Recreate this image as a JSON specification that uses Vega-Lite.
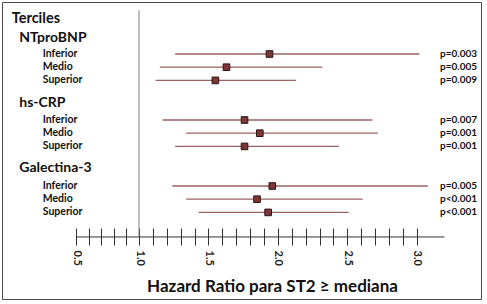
{
  "$schema": "https://vega.github.io/schema/vega-lite/v6.json",
  "width": 479,
  "height": 297,
  "autosize": {"type": "none"},
  "padding": {"left": 2, "top": 2, "right": 6, "bottom": 5},
  "background": "white",
  "config": {
    "view": {"stroke": "#4a4a4a", "strokeWidth": 1},
    "font": "Lato",
    "axisX": {
      "offset": -71,
      "domain": false,
      "grid": false,
      "tickCount": 100,
      "tickSize": 17,
      "tickColor": "#333333",
      "tickWidth": 1,
      "labelAngle": 90,
      "labelPadding": 5,
      "labelFont": "Lato",
      "labelFontSize": 11,
      "labelFontWeight": "bold",
      "labelColor": "#222222",
      "labelFlush": false,
      "labelOverlap": false,
      "titleFont": "Lato",
      "titleFontSize": 17,
      "titleFontWeight": "bold",
      "titleColor": "#111111",
      "titleX": 270,
      "titleY": 50
    }
  },
  "datasets": {
    "items": [
      {"group": "NTproBNP", "label": "Inferior", "row": 3, "hr": 1.94, "lo": 1.26, "hi": 3.02, "p": "p=0.003"},
      {"group": "NTproBNP", "label": "Medio", "row": 4, "hr": 1.63, "lo": 1.15, "hi": 2.32, "p": "p=0.005"},
      {"group": "NTproBNP", "label": "Superior", "row": 5, "hr": 1.55, "lo": 1.12, "hi": 2.13, "p": "p=0.009"},
      {"group": "hs-CRP", "label": "Inferior", "row": 8, "hr": 1.76, "lo": 1.17, "hi": 2.68, "p": "p=0.007"},
      {"group": "hs-CRP", "label": "Medio", "row": 9, "hr": 1.87, "lo": 1.34, "hi": 2.72, "p": "p=0.001"},
      {"group": "hs-CRP", "label": "Superior", "row": 10, "hr": 1.76, "lo": 1.26, "hi": 2.44, "p": "p=0.001"},
      {"group": "Galectina-3", "label": "Inferior", "row": 13, "hr": 1.96, "lo": 1.24, "hi": 3.08, "p": "p=0.005"},
      {"group": "Galectina-3", "label": "Medio", "row": 14, "hr": 1.85, "lo": 1.34, "hi": 2.61, "p": "p<0.001"},
      {"group": "Galectina-3", "label": "Superior", "row": 15, "hr": 1.93, "lo": 1.43, "hi": 2.51, "p": "p<0.001"}
    ],
    "groups": [
      {"label": "NTproBNP", "row": 1.8},
      {"label": "hs-CRP", "row": 6.7},
      {"label": "Galectina-3", "row": 11.65}
    ],
    "heading": [{"label": "Terciles", "row": 0.35}],
    "refs": [{"ref": 1, "top": -0.33, "axisrow": 16.86, "axisfrom": 0.5, "axisto": 3.2}]
  },
  "layer": [
    {
      "data": {"name": "items"},
      "mark": {"type": "rule", "color": "#9a6262", "strokeWidth": 1.3},
      "encoding": {
        "x": {
          "field": "lo", "type": "quantitative",
          "title": "Hazard Ratio para ST2 ≥ mediana",
          "scale": {"domain": [0.5, 1, 3], "range": [74, 137, 414.7], "nice": false, "zero": false},
          "axis": {
            "values": [0.5, 0.6, 0.7, 0.8, 0.9, 1.0, 1.1, 1.2, 1.3, 1.4, 1.5, 1.6, 1.7, 1.8, 1.9, 2.0, 2.1, 2.2, 2.3, 2.4, 2.5, 2.6, 2.7, 2.8, 2.9, 3.0, 3.1],
            "tickCount": 100,
            "format": ".1f",
            "labelExpr": "(round(datum.value*10) % 5 == 0) ? datum.label : ''"
          }
        },
        "x2": {"field": "hi"},
        "y": {
          "field": "row", "type": "quantitative",
          "scale": {"domain": [-0.94, 21.56], "reverse": true, "nice": false, "zero": false},
          "axis": null
        }
      }
    },
    {
      "data": {"name": "refs"},
      "mark": {"type": "rule", "color": "#808080", "strokeWidth": 1},
      "encoding": {
        "x": {"field": "ref", "type": "quantitative", "title": "Hazard Ratio para ST2 ≥ mediana"},
        "y": {"field": "top", "type": "quantitative", "axis": null},
        "y2": {"field": "axisrow"}
      }
    },
    {
      "data": {"name": "refs"},
      "mark": {"type": "rule", "color": "#333333", "strokeWidth": 1},
      "encoding": {
        "x": {"field": "axisfrom", "type": "quantitative", "title": "Hazard Ratio para ST2 ≥ mediana"},
        "x2": {"field": "axisto"},
        "y": {"field": "axisrow", "type": "quantitative", "axis": null}
      }
    },
    {
      "data": {"name": "items"},
      "mark": {"type": "square", "size": 44, "filled": true, "fill": "#7d3535", "stroke": "#2e1414", "strokeWidth": 1, "opacity": 1},
      "encoding": {
        "x": {"field": "hr", "type": "quantitative", "title": "Hazard Ratio para ST2 ≥ mediana"},
        "y": {"field": "row", "type": "quantitative", "axis": null}
      }
    },
    {
      "data": {"name": "items"},
      "mark": {"type": "text", "align": "left", "baseline": "middle", "font": "Lato", "fontWeight": "bold", "fontSize": 10.5, "color": "#111111"},
      "encoding": {
        "x": {"datum": 0.236, "type": "quantitative", "title": "Hazard Ratio para ST2 ≥ mediana"},
        "y": {"field": "row", "type": "quantitative", "axis": null},
        "text": {"field": "label"}
      }
    },
    {
      "data": {"name": "items"},
      "mark": {"type": "text", "align": "left", "baseline": "middle", "font": "Lato", "fontWeight": "bold", "fontSize": 10, "color": "#111111"},
      "encoding": {
        "x": {"datum": 3.168, "type": "quantitative", "title": "Hazard Ratio para ST2 ≥ mediana"},
        "y": {"field": "row", "type": "quantitative", "axis": null},
        "text": {"field": "p"}
      }
    },
    {
      "data": {"name": "groups"},
      "mark": {"type": "text", "align": "left", "baseline": "middle", "font": "Lato", "fontWeight": "bold", "fontSize": 14, "color": "#111111"},
      "encoding": {
        "x": {"datum": 0.05, "type": "quantitative", "title": "Hazard Ratio para ST2 ≥ mediana"},
        "y": {"field": "row", "type": "quantitative", "axis": null},
        "text": {"field": "label"}
      }
    },
    {
      "data": {"name": "heading"},
      "mark": {"type": "text", "align": "left", "baseline": "middle", "font": "Lato", "fontWeight": "bold", "fontSize": 14.5, "color": "#111111"},
      "encoding": {
        "x": {"datum": -0.01, "type": "quantitative", "title": "Hazard Ratio para ST2 ≥ mediana"},
        "y": {"field": "row", "type": "quantitative", "axis": null},
        "text": {"field": "label"}
      }
    }
  ]
}
